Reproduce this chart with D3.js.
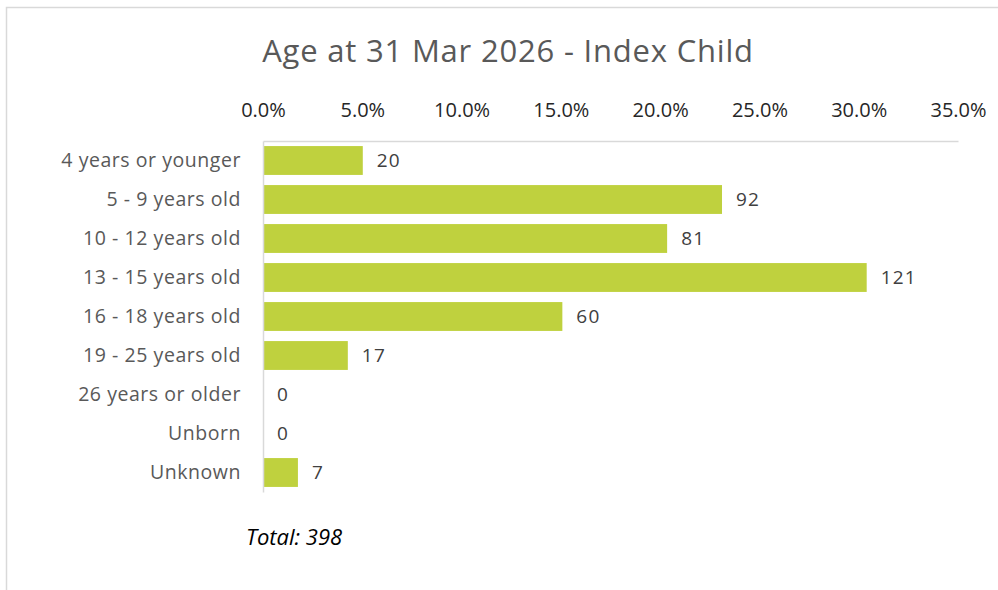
<!DOCTYPE html>
<html>
<head>
<meta charset="utf-8">
<script src="https://cdn.jsdelivr.net/npm/d3@7"></script>
<style>
  html, body { margin: 0; padding: 0; background: #fff; }
  svg { display: block; font-family: "Open Sans", Lato, sans-serif; }
</style>
</head>
<body>
<svg id="chart" width="998" height="590"></svg>
<script>
// Age bands of the index child and number of children in each band
const categories = ["4 years or younger", "5 - 9 years old", "10 - 12 years old", "13 - 15 years old",
  "16 - 18 years old", "19 - 25 years old", "26 years or older", "Unborn", "Unknown"];
const counts = [20, 92, 81, 121, 60, 17, 0, 0, 7];
const tickValues = [0, 0.05, 0.10, 0.15, 0.20, 0.25, 0.30, 0.35];
const total = d3.sum(counts);

const FONT = "'Open Sans', Lato, sans-serif";
const svg = d3.select("#chart");

// chart frame (only the top and left edges fall inside the view)
svg.append("rect").attr("x", 6.5).attr("y", 7.5).attr("width", 1100).attr("height", 700)
  .attr("fill", "#fff").attr("stroke", "#d9d9d9").attr("stroke-width", 1.5);

const margin = { left: 263, top: 141, right: 958, bottom: 492 };

const x = d3.scaleLinear().domain([0, 0.35]).range([margin.left, margin.right]);
const y = d3.scaleBand().domain(categories).range([margin.top, margin.bottom]).paddingInner(0.26).paddingOuter(0.13);

// title
svg.append("text").attr("x", 508).attr("y", 62).attr("text-anchor", "middle")
  .attr("fill", "#595959").attr("font-size", 31).attr("letter-spacing", 0.8)
  .text("Age at 31 Mar 2026 - Index Child");

// top percentage axis
const xAxis = svg.append("g").attr("transform", `translate(0,${margin.top})`)
  .call(d3.axisTop(x).tickValues(tickValues).tickFormat(d3.format(".1%")).tickSize(0).tickPadding(24));
xAxis.select(".domain").attr("stroke", "#d9d9d9").attr("stroke-width", 1.3);
xAxis.selectAll("text").attr("font-size", 20).attr("fill", "#262626").attr("font-family", FONT);

// bars: share of the total
svg.append("g").selectAll("rect").data(counts).join("rect")
  .attr("x", x(0) + 1)
  .attr("y", (d, i) => y(categories[i]))
  .attr("width", d => Math.max(0, x(d / total) - x(0) - 1))
  .attr("height", y.bandwidth())
  .attr("fill", "#bfd13e");

// left category axis
const yAxis = svg.append("g").attr("transform", `translate(${margin.left},0)`)
  .call(d3.axisLeft(y).tickSize(0).tickPadding(22));
yAxis.select(".domain").attr("stroke", "#d9d9d9").attr("stroke-width", 1.5);
yAxis.selectAll("text").attr("font-size", 19.5).attr("letter-spacing", 0.55)
  .attr("fill", "#595959").attr("font-family", FONT);

// count labels at bar ends
svg.append("g").selectAll("text").data(counts).join("text")
  .attr("x", d => x(d / total) + 14)
  .attr("y", (d, i) => y(categories[i]) + y.bandwidth() / 2)
  .attr("dy", "0.36em")
  .attr("font-size", 19).attr("letter-spacing", 1.2).attr("fill", "#404040")
  .text(d => d);

// total note
svg.append("text").attr("x", 246).attr("y", 545).attr("font-size", 22)
  .attr("font-style", "italic").attr("fill", "#000").text(`Total: ${total}`);
</script>
</body>
</html>
